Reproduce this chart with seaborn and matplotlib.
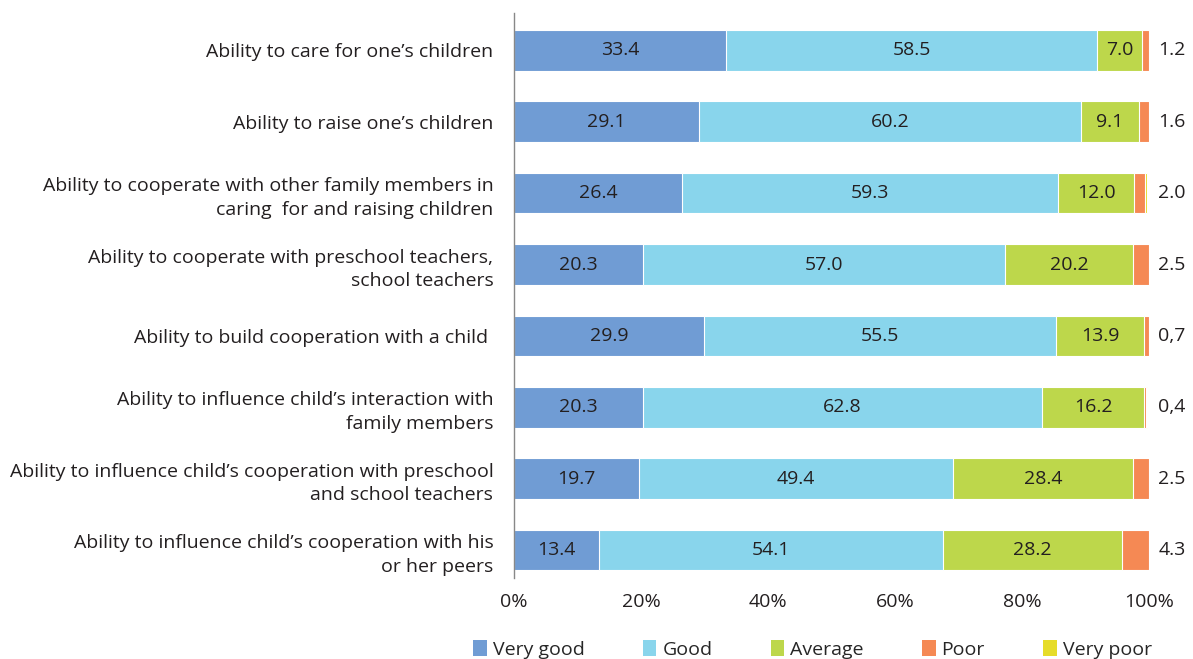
import matplotlib
matplotlib.use("Agg")
import matplotlib.pyplot as plt
import seaborn as sns
import pandas as pd
import numpy as np
from matplotlib.patches import Patch

categories = [
    "Ability to care for one\u2019s children",
    "Ability to raise one\u2019s children",
    "Ability to cooperate with other family members in\ncaring  for and raising children",
    "Ability to cooperate with preschool teachers,\nschool teachers",
    "Ability to build cooperation with a child ",
    "Ability to influence child\u2019s interaction with\nfamily members",
    "Ability to influence child\u2019s cooperation with preschool\nand school teachers",
    "Ability to influence child\u2019s cooperation with his\nor her peers",
]
very_good = [33.4, 29.1, 26.4, 20.3, 29.9, 20.3, 19.7, 13.4]
good = [58.5, 60.2, 59.3, 57.0, 55.5, 62.8, 49.4, 54.1]
average = [7.0, 9.1, 12.0, 20.2, 13.9, 16.2, 28.4, 28.2]
poor = [1.2, 1.6, 1.7, 2.5, 0.7, 0.2, 2.5, 4.3]
very_poor = [0.0, 0.0, 0.3, 0.0, 0.0, 0.2, 0.0, 0.0]
low_labels = ["1.2", "1.6", "2.0", "2.5", "0,7", "0,4", "2.5", "4.3"]

series_names = ["Very good", "Good", "Average", "Poor", "Very poor"]
colors = ["#709CD4", "#89D5EC", "#BDD74B", "#F58954", "#E6DC29"]

sns.set_theme(style="white")
plt.rcParams["font.family"] = ["Open Sans", "DejaVu Sans"]

df = pd.DataFrame({
    "category": categories,
    "Very good": very_good,
    "Good": good,
    "Average": average,
    "Poor": poor,
    "Very poor": very_poor,
})
cum = df[series_names].cumsum(axis=1)

fig = plt.figure(figsize=(11.93, 6.59), dpi=100)
ax = fig.add_axes([0.431, 0.123, 0.532, 0.858])

# stacked bars: draw cumulative totals from the outermost layer inward
for name, color in reversed(list(zip(series_names, colors))):
    sns.barplot(x=cum[name], y=df["category"], orient="h", color=color,
                width=0.57, edgecolor="white", linewidth=0.8, ax=ax,
                saturation=1)

ax.set_xlim(0, 100)
ax.set_ylim(7.39, -0.53)
ax.set_xlabel("")
ax.set_ylabel("")
ax.set_xticks(np.arange(0, 101, 20))
ax.set_xticklabels([f"{v}%" for v in range(0, 101, 20)], fontsize=14, color="#231F20")
ax.tick_params(axis="y", labelsize=14, colors="#231F20", length=0, pad=15)
ax.tick_params(axis="x", length=0, pad=11)
for lbl in ax.get_yticklabels():
    lbl.set_horizontalalignment("right")
    lbl.set_linespacing(1.4)

for s in ["top", "right", "bottom"]:
    ax.spines[s].set_visible(False)
ax.spines["left"].set_color("#888888")
ax.spines["left"].set_linewidth(1.0)

# segment value labels
for i in range(len(categories)):
    left = 0.0
    for name in ["Very good", "Good", "Average"]:
        v = df.loc[i, name]
        ax.text(left + v / 2, i, f"{v:.1f}", ha="center", va="center",
                fontsize=14, color="#231F20")
        left += v
    ax.text(101.5, i, low_labels[i], ha="left", va="center",
            fontsize=14, color="#231F20", clip_on=False)

handles = [Patch(facecolor=c, edgecolor="none") for c in colors]
fig.legend(handles, series_names, loc="lower center", bbox_to_anchor=(0.681, -0.026),
           ncol=5, frameon=False, fontsize=14, handlelength=0.7, handleheight=0.9,
           handletextpad=0.3, columnspacing=3.0)

fig.savefig("out.png", dpi=100)
